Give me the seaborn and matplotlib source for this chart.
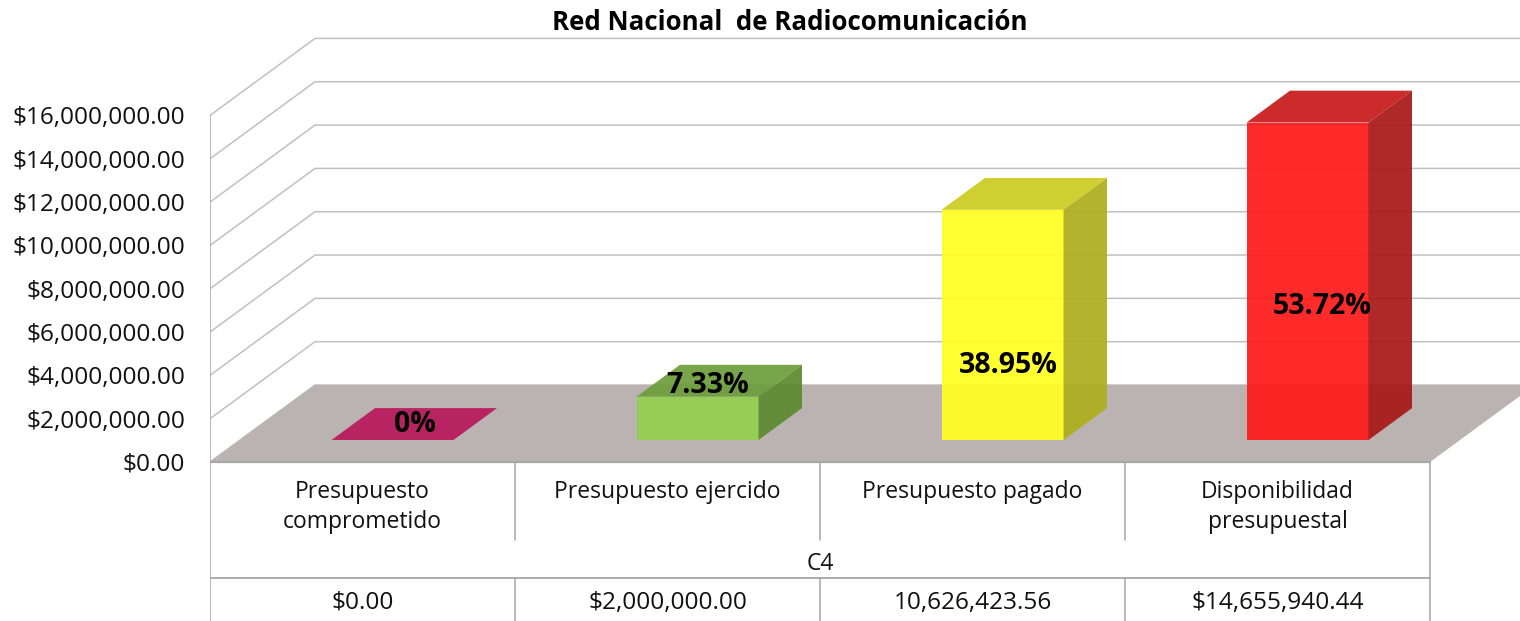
import numpy as np
import pandas as pd
import seaborn as sns
import matplotlib
matplotlib.use("Agg")
import matplotlib.pyplot as plt
from matplotlib.patches import Polygon

# ---------------- data ----------------
title = "Red Nacional  de Radiocomunicación"
categories = ["Presupuesto\ncomprometido", "Presupuesto ejercido",
              "Presupuesto pagado", "Disponibilidad\npresupuestal"]
values = [0.00, 2000000.00, 10626423.56, 14655940.44]
value_labels = ["$0.00", "$2,000,000.00", "10,626,423.56", "$14,655,940.44"]
pct_labels = ["0%", "7.33%", "38.95%", "53.72%"]
group_label = "C4"
yticks = [0, 2000000, 4000000, 6000000, 8000000, 10000000, 12000000, 14000000, 16000000]

# ---------------- styles ----------------
front_colors = ["#B8185C", "#92D050", "#FFFF22", "#FF1A1A"]
top_colors = ["#B8185C", "#6E9E3C", "#CCCC22", "#C81B1B"]
side_colors = ["#8E1247", "#5C8A2F", "#AEAE1E", "#A81818"]
label_offsets_px = [(22, -15), (10, -11), (6, 156), (15, 184)]

W, H = 1520, 621
X_LEFT_PX, Y_ZERO_PX = 210, 462
PX_PER_CAT = 305.0
PX_PER_UNIT = 21.66 / 1e6
DEPTH_PX = (105, 77)
BAR_FRONT_FRAC, BAR_BACK_FRAC = 0.286, 0.70
GRID_COLOR = "#C0C0C0"
LINE_COLOR = "#A6A6A6"
FLOOR_COLOR = "#BBB3B1"
FONT = ["Open Sans", "DejaVu Sans"]
TEXT_COLOR = "#111111"

def xd(px):
    return -0.5 + (px - X_LEFT_PX) / PX_PER_CAT

def yd(py):
    return (Y_ZERO_PX - py) / PX_PER_UNIT

def dxd(px):
    return px / PX_PER_CAT

def dyd(px):
    return px / PX_PER_UNIT

sns.set_theme(style="white")
plt.rcParams["font.family"] = FONT

fig = plt.figure(figsize=(W / 100, H / 100), dpi=100)
ax = fig.add_axes([X_LEFT_PX / W, 0, (W - X_LEFT_PX) / W, 1])
ax.set_facecolor("none")

n = len(categories)
DX, DY = dxd(DEPTH_PX[0]), dyd(DEPTH_PX[1])
x_end = xd(W)
xl = -0.5
xr = n - 0.5

# walls: gridlines on side wall + back wall
for v in yticks:
    ax.plot([xl, xl + DX, x_end + 1], [v, v + DY, v + DY], color=GRID_COLOR,
            lw=1.1, zorder=1, solid_joinstyle="miter")

# floor
floor = Polygon([(xl, 0), (xr, 0), (xr + DX, DY), (xl + DX, DY)], closed=True,
                facecolor=FLOOR_COLOR, edgecolor="none", zorder=2)
ax.add_patch(floor)
n_before = len(ax.patches)

# bars (front faces)
df = pd.DataFrame({"categoria": categories, "valor": values})
sns.barplot(data=df, x="categoria", y="valor", hue="categoria", order=categories,
            hue_order=categories, palette=front_colors, width=0.4, saturation=1,
            legend=False, alpha=0.93, linewidth=0, ax=ax, zorder=3)
bars = list(ax.patches)[n_before:]

f0x, f0y = BAR_FRONT_FRAC * DX, BAR_FRONT_FRAC * DY
bdx = (BAR_BACK_FRAC - BAR_FRONT_FRAC) * DX
bdy = (BAR_BACK_FRAC - BAR_FRONT_FRAC) * DY

for i, p in enumerate(bars):
    p.set_x(p.get_x() + f0x)
    p.set_y(f0y)
    x0 = p.get_x()
    x1 = x0 + p.get_width()
    b = p.get_y()
    t = b + p.get_height()
    top = Polygon([(x0, t), (x1, t), (x1 + bdx, t + bdy), (x0 + bdx, t + bdy)],
                  closed=True, facecolor=top_colors[i], edgecolor="none",
                  alpha=0.93, zorder=3)
    side = Polygon([(x1, b), (x1, t), (x1 + bdx, t + bdy), (x1 + bdx, b + bdy)],
                   closed=True, facecolor=side_colors[i], edgecolor="none",
                   alpha=0.93, zorder=3)
    ax.add_patch(top)
    ax.add_patch(side)
    cx = (x0 + x1) / 2
    ox, oy = label_offsets_px[i]
    ax.text(cx + dxd(ox), t - dyd(oy), pct_labels[i], ha="center", va="center",
            fontsize=20.5, fontweight="bold", color="black", zorder=5)

# axis line and floor front edge
ax.plot([xl, xl], [yd(H + 2), yticks[-1]], color=LINE_COLOR, lw=1.1, zorder=4)
ax.plot([xl, xr], [0, 0], color=LINE_COLOR, lw=1.6, zorder=4)

# data table
row1_bottom = yd(540)
row2_bottom = yd(578)
bottom = yd(H + 2)
ax.plot([xr, xr], [0, bottom], color=LINE_COLOR, lw=1.1, zorder=4)
for i in range(1, n):
    b_ = i - 0.5
    ax.plot([b_, b_], [0, row1_bottom], color=LINE_COLOR, lw=1.1, zorder=4)
    ax.plot([b_, b_], [row2_bottom, bottom], color=LINE_COLOR, lw=1.1, zorder=4)
ax.plot([xl - dxd(6), xr], [row2_bottom, row2_bottom], color=LINE_COLOR, lw=1.3, zorder=4)

for i, c in enumerate(categories):
    ax.text(i, yd(480), c, ha="center", va="top", fontsize=16.5, color=TEXT_COLOR,
            linespacing=1.35)
    ax.text(i, yd(603), value_labels[i], ha="center", va="center", fontsize=17.6,
            color=TEXT_COLOR)
ax.text((n - 1) / 2, yd(564), group_label, ha="center", va="center", fontsize=16.5,
        color=TEXT_COLOR)

# axes setup
ax.set_xlim(xl, x_end)
ax.set_ylim(yd(H), yd(0))
ax.set_yticks(yticks)
ax.set_yticklabels(["${:,.2f}".format(v) for v in yticks], fontsize=17.6, color=TEXT_COLOR)
ax.set_xticks([])
ax.tick_params(axis="y", length=0, pad=25 * 0.72)
ax.set_xlabel("")
ax.set_ylabel("")
for s in ax.spines.values():
    s.set_visible(False)

fig.text(790 / W, 1 - 23 / H, title, ha="center", va="center", fontsize=18.6,
         fontweight="bold", color="black")

fig.savefig("out.png", dpi=100, facecolor="white")
